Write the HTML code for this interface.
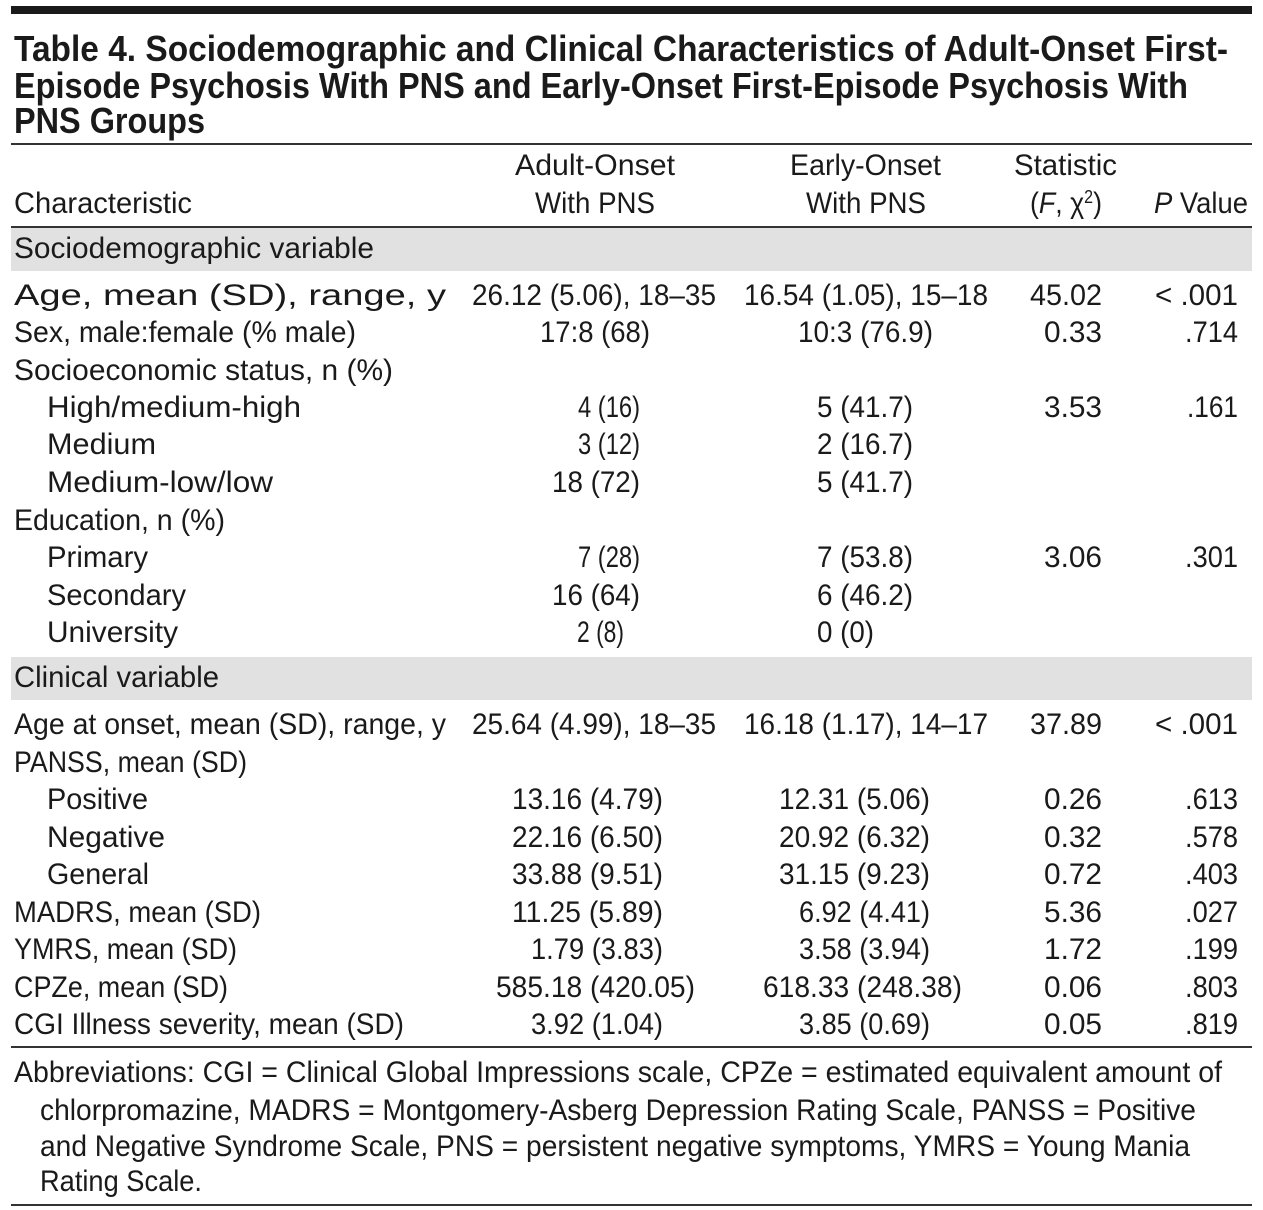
<!DOCTYPE html>
<html><head><meta charset="utf-8"><style>
html,body{margin:0;padding:0;background:#fff;}
svg{display:block;}
text{font-family:"Liberation Sans",sans-serif;font-size:30px;fill:#1a1a1a;}
.t{font-weight:bold;font-size:36px;}
</style></head><body>
<svg width="1263" height="1210" viewBox="0 0 1263 1210" xmlns="http://www.w3.org/2000/svg">
<g lengthAdjust="spacingAndGlyphs">
<rect x="11" y="6" width="1241" height="8" fill="#1a1a1a"/>
<text class="t" x="14" y="61" textLength="1214" lengthAdjust="spacingAndGlyphs">Table 4. Sociodemographic and Clinical Characteristics of Adult-Onset First-</text>
<text class="t" x="14" y="98" textLength="1174" lengthAdjust="spacingAndGlyphs">Episode Psychosis With PNS and Early-Onset First-Episode Psychosis With</text>
<text class="t" x="14" y="133" textLength="191" lengthAdjust="spacingAndGlyphs">PNS Groups</text>
<rect x="11" y="143" width="1241" height="2" fill="#333"/>

<text x="515" y="175" textLength="160" lengthAdjust="spacingAndGlyphs">Adult-Onset</text>
<text x="535" y="213" textLength="120" lengthAdjust="spacingAndGlyphs">With PNS</text>
<text x="790" y="175" textLength="151" lengthAdjust="spacingAndGlyphs">Early-Onset</text>
<text x="806" y="213" textLength="120" lengthAdjust="spacingAndGlyphs">With PNS</text>
<text x="1014" y="175" textLength="103" lengthAdjust="spacingAndGlyphs">Statistic</text>
<text x="1030" y="213" textLength="72" lengthAdjust="spacingAndGlyphs">(<tspan font-style="italic">F</tspan>, χ<tspan font-size="18" dy="-10">2</tspan><tspan dy="10">)</tspan></text>
<text x="1154" y="213" textLength="94" lengthAdjust="spacingAndGlyphs"><tspan font-style="italic">P</tspan> Value</text>
<text x="14" y="213" textLength="178" lengthAdjust="spacingAndGlyphs">Characteristic</text>
<rect x="11" y="226" width="1241" height="2" fill="#333"/>
<rect x="11" y="228" width="1241" height="43" fill="#e1e1e1"/>
<text x="14" y="258" textLength="360" lengthAdjust="spacingAndGlyphs">Sociodemographic variable</text>

<text x="14" y="305" textLength="432" lengthAdjust="spacingAndGlyphs">Age, mean (SD), range, y</text>
<text x="472" y="305" textLength="244" lengthAdjust="spacingAndGlyphs">26.12 (5.06), 18–35</text>
<text x="744" y="305" textLength="244" lengthAdjust="spacingAndGlyphs">16.54 (1.05), 15–18</text>
<text x="1030" y="305" textLength="72" lengthAdjust="spacingAndGlyphs">45.02</text>
<text x="1155" y="305" textLength="83" lengthAdjust="spacingAndGlyphs">&lt; .001</text>

<text x="14" y="342" textLength="342" lengthAdjust="spacingAndGlyphs">Sex, male:female (% male)</text>
<text x="540" y="342" textLength="110" lengthAdjust="spacingAndGlyphs">17:8 (68)</text>
<text x="798" y="342" textLength="135" lengthAdjust="spacingAndGlyphs">10:3 (76.9)</text>
<text x="1044" y="342" textLength="58" lengthAdjust="spacingAndGlyphs">0.33</text>
<text x="1185" y="342" textLength="53" lengthAdjust="spacingAndGlyphs">.714</text>

<text x="14" y="380" textLength="379" lengthAdjust="spacingAndGlyphs">Socioeconomic status, n (%)</text>

<text x="47" y="417" textLength="254" lengthAdjust="spacingAndGlyphs">High/medium-high</text>
<text x="578" y="417" textLength="62" lengthAdjust="spacingAndGlyphs">4 (16)</text>
<text x="817" y="417" textLength="96" lengthAdjust="spacingAndGlyphs">5 (41.7)</text>
<text x="1044" y="417" textLength="58" lengthAdjust="spacingAndGlyphs">3.53</text>
<text x="1187" y="417" textLength="51" lengthAdjust="spacingAndGlyphs">.161</text>

<text x="47" y="454" textLength="109" lengthAdjust="spacingAndGlyphs">Medium</text>
<text x="578" y="454" textLength="62" lengthAdjust="spacingAndGlyphs">3 (12)</text>
<text x="817" y="454" textLength="96" lengthAdjust="spacingAndGlyphs">2 (16.7)</text>

<text x="47" y="492" textLength="226" lengthAdjust="spacingAndGlyphs">Medium-low/low</text>
<text x="552" y="492" textLength="88" lengthAdjust="spacingAndGlyphs">18 (72)</text>
<text x="817" y="492" textLength="96" lengthAdjust="spacingAndGlyphs">5 (41.7)</text>

<text x="14" y="530" textLength="211" lengthAdjust="spacingAndGlyphs">Education, n (%)</text>

<text x="47" y="567" textLength="101" lengthAdjust="spacingAndGlyphs">Primary</text>
<text x="578" y="567" textLength="62" lengthAdjust="spacingAndGlyphs">7 (28)</text>
<text x="817" y="567" textLength="96" lengthAdjust="spacingAndGlyphs">7 (53.8)</text>
<text x="1044" y="567" textLength="58" lengthAdjust="spacingAndGlyphs">3.06</text>
<text x="1185" y="567" textLength="53" lengthAdjust="spacingAndGlyphs">.301</text>

<text x="47" y="605" textLength="139" lengthAdjust="spacingAndGlyphs">Secondary</text>
<text x="552" y="605" textLength="88" lengthAdjust="spacingAndGlyphs">16 (64)</text>
<text x="817" y="605" textLength="96" lengthAdjust="spacingAndGlyphs">6 (46.2)</text>

<text x="47" y="642" textLength="131" lengthAdjust="spacingAndGlyphs">University</text>
<text x="577" y="642" textLength="47" lengthAdjust="spacingAndGlyphs">2 (8)</text>
<text x="817" y="642" textLength="57" lengthAdjust="spacingAndGlyphs">0 (0)</text>

<rect x="11" y="657" width="1241" height="43" fill="#e1e1e1"/>
<text x="14" y="687" textLength="205" lengthAdjust="spacingAndGlyphs">Clinical variable</text>

<text x="14" y="734" textLength="432" lengthAdjust="spacingAndGlyphs">Age at onset, mean (SD), range, y</text>
<text x="472" y="734" textLength="244" lengthAdjust="spacingAndGlyphs">25.64 (4.99), 18–35</text>
<text x="744" y="734" textLength="244" lengthAdjust="spacingAndGlyphs">16.18 (1.17), 14–17</text>
<text x="1030" y="734" textLength="72" lengthAdjust="spacingAndGlyphs">37.89</text>
<text x="1155" y="734" textLength="83" lengthAdjust="spacingAndGlyphs">&lt; .001</text>

<text x="14" y="772" textLength="233" lengthAdjust="spacingAndGlyphs">PANSS, mean (SD)</text>

<text x="47" y="809" textLength="101" lengthAdjust="spacingAndGlyphs">Positive</text>
<text x="512" y="809" textLength="151" lengthAdjust="spacingAndGlyphs">13.16 (4.79)</text>
<text x="779" y="809" textLength="151" lengthAdjust="spacingAndGlyphs">12.31 (5.06)</text>
<text x="1044" y="809" textLength="58" lengthAdjust="spacingAndGlyphs">0.26</text>
<text x="1185" y="809" textLength="53" lengthAdjust="spacingAndGlyphs">.613</text>

<text x="47" y="847" textLength="118" lengthAdjust="spacingAndGlyphs">Negative</text>
<text x="512" y="847" textLength="151" lengthAdjust="spacingAndGlyphs">22.16 (6.50)</text>
<text x="779" y="847" textLength="151" lengthAdjust="spacingAndGlyphs">20.92 (6.32)</text>
<text x="1044" y="847" textLength="58" lengthAdjust="spacingAndGlyphs">0.32</text>
<text x="1185" y="847" textLength="53" lengthAdjust="spacingAndGlyphs">.578</text>

<text x="47" y="884" textLength="102" lengthAdjust="spacingAndGlyphs">General</text>
<text x="512" y="884" textLength="151" lengthAdjust="spacingAndGlyphs">33.88 (9.51)</text>
<text x="779" y="884" textLength="151" lengthAdjust="spacingAndGlyphs">31.15 (9.23)</text>
<text x="1044" y="884" textLength="58" lengthAdjust="spacingAndGlyphs">0.72</text>
<text x="1185" y="884" textLength="53" lengthAdjust="spacingAndGlyphs">.403</text>

<text x="14" y="922" textLength="247" lengthAdjust="spacingAndGlyphs">MADRS, mean (SD)</text>
<text x="512" y="922" textLength="151" lengthAdjust="spacingAndGlyphs">11.25 (5.89)</text>
<text x="799" y="922" textLength="131" lengthAdjust="spacingAndGlyphs">6.92 (4.41)</text>
<text x="1044" y="922" textLength="58" lengthAdjust="spacingAndGlyphs">5.36</text>
<text x="1185" y="922" textLength="53" lengthAdjust="spacingAndGlyphs">.027</text>

<text x="14" y="959" textLength="223" lengthAdjust="spacingAndGlyphs">YMRS, mean (SD)</text>
<text x="531" y="959" textLength="132" lengthAdjust="spacingAndGlyphs">1.79 (3.83)</text>
<text x="799" y="959" textLength="131" lengthAdjust="spacingAndGlyphs">3.58 (3.94)</text>
<text x="1044" y="959" textLength="58" lengthAdjust="spacingAndGlyphs">1.72</text>
<text x="1185" y="959" textLength="53" lengthAdjust="spacingAndGlyphs">.199</text>

<text x="14" y="997" textLength="214" lengthAdjust="spacingAndGlyphs">CPZe, mean (SD)</text>
<text x="496" y="997" textLength="199" lengthAdjust="spacingAndGlyphs">585.18 (420.05)</text>
<text x="763" y="997" textLength="199" lengthAdjust="spacingAndGlyphs">618.33 (248.38)</text>
<text x="1044" y="997" textLength="58" lengthAdjust="spacingAndGlyphs">0.06</text>
<text x="1185" y="997" textLength="53" lengthAdjust="spacingAndGlyphs">.803</text>

<text x="14" y="1034" textLength="390" lengthAdjust="spacingAndGlyphs">CGI Illness severity, mean (SD)</text>
<text x="531" y="1034" textLength="132" lengthAdjust="spacingAndGlyphs">3.92 (1.04)</text>
<text x="799" y="1034" textLength="131" lengthAdjust="spacingAndGlyphs">3.85 (0.69)</text>
<text x="1044" y="1034" textLength="58" lengthAdjust="spacingAndGlyphs">0.05</text>
<text x="1185" y="1034" textLength="53" lengthAdjust="spacingAndGlyphs">.819</text>

<rect x="11" y="1046" width="1241" height="2" fill="#333"/>
<text x="14" y="1082" textLength="1208" lengthAdjust="spacingAndGlyphs">Abbreviations: CGI = Clinical Global Impressions scale, CPZe = estimated equivalent amount of</text>
<text x="40" y="1120" textLength="1156" lengthAdjust="spacingAndGlyphs">chlorpromazine, MADRS = Montgomery-Asberg Depression Rating Scale, PANSS = Positive</text>
<text x="40" y="1156" textLength="1150" lengthAdjust="spacingAndGlyphs">and Negative Syndrome Scale, PNS = persistent negative symptoms, YMRS = Young Mania</text>
<text x="40" y="1191" textLength="162" lengthAdjust="spacingAndGlyphs">Rating Scale.</text>
<rect x="11" y="1204" width="1241" height="2" fill="#333"/>
</g>
</svg>
</body></html>
